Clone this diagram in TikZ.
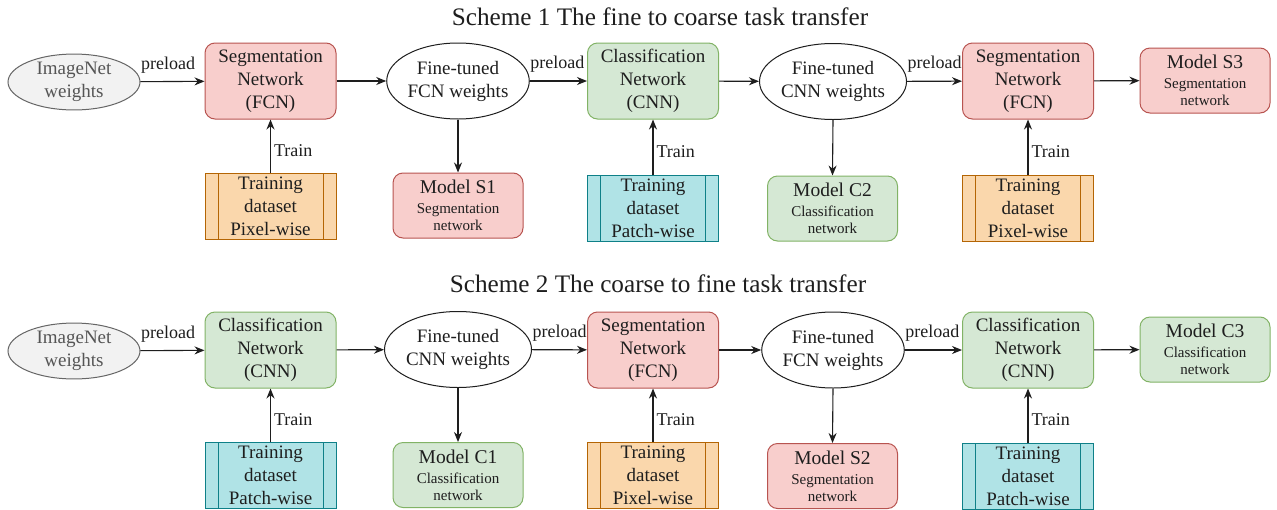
\documentclass[tikz,border=0pt]{standalone}
\usepackage{fontspec}
\setmainfont{Liberation Serif}
\usetikzlibrary{shapes.geometric,arrows.meta}

\definecolor{segfill}{HTML}{F8CECC}
\definecolor{segline}{HTML}{B85450}
\definecolor{clsfill}{HTML}{D5E8D4}
\definecolor{clsline}{HTML}{82B366}
\definecolor{pixfill}{HTML}{FAD7AC}
\definecolor{pixline}{HTML}{B46504}
\definecolor{patfill}{HTML}{B0E3E6}
\definecolor{patline}{HTML}{0E8088}
\definecolor{imgfill}{HTML}{F2F2F2}
\definecolor{imgline}{HTML}{666666}
\definecolor{imgtext}{HTML}{555555}
\definecolor{ink}{HTML}{1E1E1E}

\newcommand\ttlfont{\fontsize{25.2}{29}\selectfont}
\newcommand\boxfont{\fontsize{19}{23}\selectfont}
\newcommand\mdlfont{\fontsize{19.5}{21}\selectfont}
\newcommand\subfont{\fontsize{15}{17}\selectfont}
\newcommand\lblfont{\fontsize{18}{20}\selectfont}

\begin{document}
\begin{tikzpicture}[x=1pt,y=-1pt,
  every node/.style={text=ink},
  ttl/.style={font=\ttlfont},
  netbox/.style={rectangle, rounded corners=10pt, line width=1pt,
    minimum width=131pt, minimum height=76pt, inner sep=0pt,
    align=center, font=\boxfont},
  segnet/.style={netbox, fill=segfill, draw=segline},
  clsnet/.style={netbox, fill=clsfill, draw=clsline},
  mdlbox/.style={rectangle, rounded corners=10pt, line width=1pt,
    minimum width=130pt, minimum height=65pt, inner sep=0pt,
    align=center, font=\subfont},
  segmodel/.style={mdlbox, fill=segfill, draw=segline},
  clsmodel/.style={mdlbox, fill=clsfill, draw=clsline},
  databox/.style={rectangle, line width=1pt, minimum width=131pt,
    minimum height=66pt, inner sep=0pt, align=center, font=\boxfont},
  pixdata/.style={databox, fill=pixfill, draw=pixline,
    path picture={\draw[pixline, line width=1pt]
      ([xshift=13pt]path picture bounding box.north west) --
      ([xshift=13pt]path picture bounding box.south west)
      ([xshift=-13pt]path picture bounding box.north east) --
      ([xshift=-13pt]path picture bounding box.south east);}},
  patdata/.style={databox, fill=patfill, draw=patline,
    path picture={\draw[patline, line width=1pt]
      ([xshift=13pt]path picture bounding box.north west) --
      ([xshift=13pt]path picture bounding box.south west)
      ([xshift=-13pt]path picture bounding box.north east) --
      ([xshift=-13pt]path picture bounding box.south east);}},
  tuned/.style={ellipse, draw=ink, fill=white, line width=1pt,
    minimum width=130pt, minimum height=76pt, inner sep=0pt,
    align=center, font=\boxfont},
  imgw/.style={ellipse, draw=imgline, fill=imgfill, line width=1pt,
    minimum width=132pt, minimum height=53pt, inner sep=0pt,
    align=center, font=\boxfont, text=imgtext},
  flow/.style={draw=ink, line width=1.1pt, -{Stealth[length=10pt,width=8pt]}},
  lbl/.style={font=\lblfont, inner sep=0pt},
]
\useasboundingbox (0,0) rectangle (1277,509);
\fill[white] (0,0) rectangle (1277,509);

% ---------- Scheme 1: fine to coarse ----------
\node[ttl] (t1) at (660,17) {Scheme 1 The fine to coarse task transfer};

\node[imgw] (in1) at (74,82) {ImageNet\\weights};
\node[segnet] (na1) at (270.5,81) {Segmentation\\Network\\(FCN)};
\node[pixdata] (da1) at (270.5,206) {Training\\dataset\\Pixel-wise};
\node[tuned] (fa1) at (458,81) {Fine-tuned\\FCN weights};
\node[segmodel] (ma1) at (458,205.5)
  {{\mdlfont Model S1}\\[3pt]Segmentation\\network};
\node[clsnet] (nb1) at (653,81) {Classification\\Network\\(CNN)};
\node[patdata] (db1) at (653,208) {Training\\dataset\\Patch-wise};
\node[tuned] (fb1) at (833,81.5) {Fine-tuned\\CNN weights};
\node[clsmodel] (mb1) at (832.5,208.5)
  {{\mdlfont Model C2}\\[3pt]Classification\\network};
\node[segnet] (nc1) at (1028,81) {Segmentation\\Network\\(FCN)};
\node[pixdata] (dc1) at (1028,208) {Training\\dataset\\Pixel-wise};
\node[segmodel] (mc1) at (1205,80.5)
  {{\mdlfont Model S3}\\[3pt]Segmentation\\network};

\draw[flow] (in1) -- node[lbl, pos=0, anchor=base west, yshift=12.5pt] {preload} (na1);
\draw[flow] (na1) -- (fa1);
\draw[flow] (fa1) -- node[lbl, pos=0, anchor=base west, yshift=12.5pt] {preload} (nb1);
\draw[flow] (nb1) -- (fb1);
\draw[flow] (fb1) -- node[lbl, pos=0, anchor=base west, yshift=12.5pt] {preload} (nc1);
\draw[flow] (nc1) -- (mc1);
\draw[flow] (fa1) -- (ma1);
\draw[flow] (fb1.south) -- (mb1.north);
\draw[flow] (da1) -- node[lbl, pos=0.42, anchor=west, xshift=3pt] {Train} (na1);
\draw[flow] (db1) -- node[lbl, pos=0.42, anchor=west, xshift=3pt] {Train} (nb1);
\draw[flow] (dc1) -- node[lbl, pos=0.42, anchor=west, xshift=3pt] {Train} (nc1);

% ---------- Scheme 2: coarse to fine ----------
\node[ttl] (t2) at (658,284) {Scheme 2 The coarse to fine task transfer};

\node[imgw] (in2) at (74,351) {ImageNet\\weights};
\node[clsnet] (na2) at (270.5,350) {Classification\\Network\\(CNN)};
\node[patdata] (da2) at (270.5,475) {Training\\dataset\\Patch-wise};
\node[tuned] (fa2) at (458,349.5) {Fine-tuned\\CNN weights};
\node[clsmodel] (ma2) at (458,475)
  {{\mdlfont Model C1}\\[3pt]Classification\\network};
\node[segnet] (nb2) at (653,350) {Segmentation\\Network\\(FCN)};
\node[pixdata] (db2) at (653,475) {Training\\dataset\\Pixel-wise};
\node[tuned] (fb2) at (833,350) {Fine-tuned\\FCN weights};
\node[segmodel] (mb2) at (832.5,476)
  {{\mdlfont Model S2}\\[3pt]Segmentation\\network};
\node[clsnet] (nc2) at (1028,350) {Classification\\Network\\(CNN)};
\node[patdata] (dc2) at (1028,476) {Training\\dataset\\Patch-wise};
\node[clsmodel] (mc2) at (1205,349.5)
  {{\mdlfont Model C3}\\[3pt]Classification\\network};

\draw[flow] (in2) -- node[lbl, pos=0, anchor=base west, yshift=12.5pt] {preload} (na2);
\draw[flow] (na2) -- (fa2);
\draw[flow] (fa2) -- node[lbl, pos=0, anchor=base west, yshift=12.5pt] {preload} (nb2);
\draw[flow] (nb2) -- (fb2);
\draw[flow] (fb2) -- node[lbl, pos=0, anchor=base west, yshift=12.5pt] {preload} (nc2);
\draw[flow] (nc2) -- (mc2);
\draw[flow] (fa2) -- (ma2);
\draw[flow] (fb2.south) -- (mb2.north);
\draw[flow] (da2) -- node[lbl, pos=0.42, anchor=west, xshift=3pt] {Train} (na2);
\draw[flow] (db2) -- node[lbl, pos=0.42, anchor=west, xshift=3pt] {Train} (nb2);
\draw[flow] (dc2) -- node[lbl, pos=0.42, anchor=west, xshift=3pt] {Train} (nc2);
\end{tikzpicture}
\end{document}
